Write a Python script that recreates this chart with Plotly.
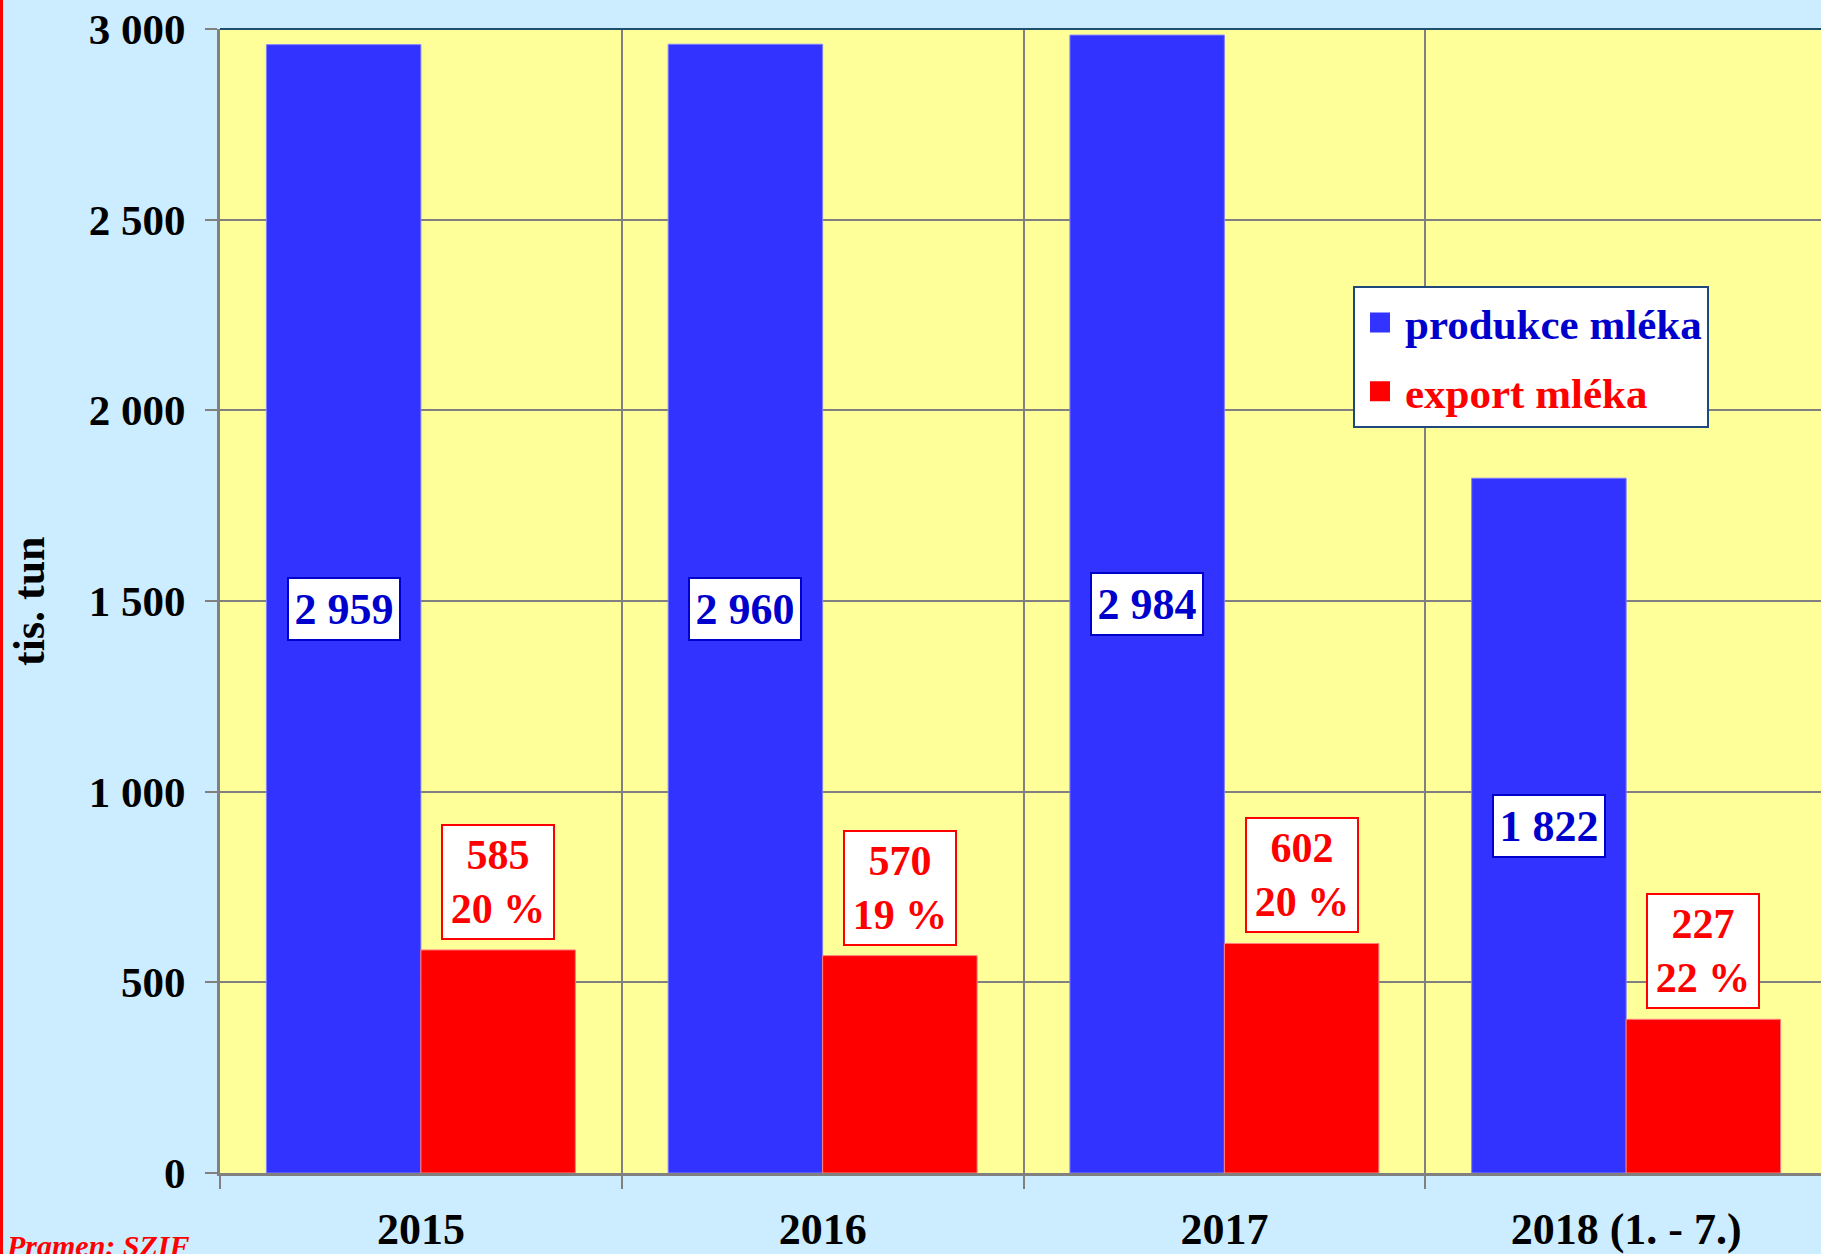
import plotly.graph_objects as go

# ---- data ----
categories = ["2015", "2016", "2017", "2018 (1. - 7.)"]
produkce = [2959, 2960, 2984, 1822]          # bar heights, tis. tun
export_bar = [585, 570, 602, 403]            # bar heights as drawn, tis. tun
produkce_labels = ["2 959", "2 960", "2 984", "1 822"]
export_labels = ["585", "570", "602", "227"]
share_labels = ["20 %", "19 %", "20 %", "22 %"]
y_ticks = [0, 500, 1000, 1500, 2000, 2500, 3000]
y_ticktext = ["0", "500", "1 000", "1 500", "2 000", "2 500", "3 000"]
series_names = ["produkce mléka", "export mléka"]

FONT = "Liberation Serif"
BLUE = "#3333FF"
BLUE_TXT = "#0000CC"
RED = "#FF0000"
GRID = "#808080"

W, H = 1821, 1254
L, R, T, B = 220, 0, 29, 81
PW, PH = W - L - R, H - T - B
X_END = 3.485   # plot area is cut a few pixels before the last category boundary

fig = go.Figure()
fig.add_trace(go.Bar(
    x=categories, y=produkce, name=series_names[0],
    marker=dict(color=BLUE, line=dict(color="#8080FF", width=1)),
    showlegend=False, hoverinfo="y",
))
fig.add_trace(go.Bar(
    x=categories, y=export_bar, name=series_names[1],
    marker=dict(color=RED, line=dict(color="#FF8080", width=1)),
    showlegend=False, hoverinfo="y",
))
# legend entries (square swatches like the original)
for nm, col, tcol, grp in [(series_names[0], BLUE, BLUE_TXT, "a"), (series_names[1], RED, RED, "b")]:
    fig.add_trace(go.Scatter(
        x=[None], y=[None], mode="markers", legendgroup=grp,
        name=f"<span style='color:{tcol}'>{nm}</span>",
        marker=dict(symbol="square", size=16, color=col, line=dict(color=col, width=4)),
        hoverinfo="skip",
    ))

cat_px = PW / (X_END + 0.5)
shift = 0.3845 * cat_px / 2

annotations = []
for i, (v, t) in enumerate(zip(produkce, produkce_labels)):
    annotations.append(dict(
        x=i, y=v / 2, xref="x", yref="y", text=t, showarrow=False,
        xshift=-shift, yanchor="middle", xanchor="center",
        font=dict(family=FONT, size=44, color=BLUE_TXT, weight="bold"),
        bgcolor="white", bordercolor=BLUE_TXT, borderwidth=2, borderpad=3,
        width=104, height=54,
    ))
for i, (v, t, s) in enumerate(zip(export_bar, export_labels, share_labels)):
    annotations.append(dict(
        x=i, y=v, xref="x", yref="y", text=f"{t}<br>{s}", showarrow=False,
        xshift=shift, yshift=10, yanchor="bottom", xanchor="center",
        font=dict(family=FONT, size=42, color=RED, weight="bold"),
        bgcolor="white", bordercolor=RED, borderwidth=2, borderpad=3,
        width=104, height=106,
    ))

# y axis title
annotations.append(dict(
    x=(29 - L) / PW, y=(H - B - 601) / PH,
    xref="paper", yref="paper", text="tis. tun", textangle=-90, showarrow=False,
    xanchor="center", yanchor="middle",
    font=dict(family=FONT, size=44, color="black", weight="bold"),
))
# source note
annotations.append(dict(
    x=(4 - L) / PW, y=(H - B - 1227) / PH, xref="paper", yref="paper",
    text="Pramen: SZIF", showarrow=False, xanchor="left", yanchor="top",
    font=dict(family=FONT, size=30, color=RED, weight="bold", style="italic"),
))

shapes = [
    # top border of plot area
    dict(type="line", xref="paper", yref="paper", x0=0, x1=1, y0=1, y1=1,
         line=dict(color="#1F4E6E", width=2)),
    # red line at left edge of the slide
    dict(type="line", xref="paper", yref="paper", x0=(1.5 - L) / PW, x1=(1.5 - L) / PW,
         y0=-B / PH, y1=1 + T / PH, line=dict(color=RED, width=3)),
]

fig.update_layout(
    width=W, height=H,
    margin=dict(l=L, r=R, t=T, b=B, autoexpand=False),
    paper_bgcolor="#CCECFF", plot_bgcolor="#FFFF99",
    barmode="group", bargap=0.231, bargroupgap=0,
    font=dict(family=FONT, color="black"),
    showlegend=True,
    legend=dict(
        x=(1353 - L) / PW, y=(H - B - 286) / PH, xanchor="left", yanchor="top",
        bgcolor="white", bordercolor="#1F497D", borderwidth=2,
        font=dict(family=FONT, size=43, weight="bold"),
        tracegroupgap=10, traceorder="grouped", itemwidth=40, itemsizing="trace",
    ),
    xaxis=dict(
        type="category", tickson="boundaries", range=[-0.5, X_END],
        showgrid=True, gridcolor=GRID, gridwidth=2,
        showline=True, linecolor=GRID, linewidth=3,
        ticks="outside", ticklen=13, tickcolor=GRID, tickwidth=2,
        tickfont=dict(family=FONT, size=44, color="black", weight="bold"),
        ticklabelstandoff=15,
    ),
    yaxis=dict(
        range=[0, 3000], tickvals=y_ticks, ticktext=y_ticktext,
        showgrid=True, gridcolor=GRID, gridwidth=2, zeroline=False,
        showline=True, linecolor=GRID, linewidth=3,
        ticks="outside", ticklen=12, tickcolor=GRID, tickwidth=2,
        tickfont=dict(family=FONT, size=43, color="black", weight="bold"),
        ticklabelstandoff=11,
    ),
    annotations=annotations, shapes=shapes,
)

fig.write_html(
    "out.html",
    config={"displayModeBar": False},
    post_script="document.body.style.margin='0';document.body.style.background='#CCECFF';"
                "document.documentElement.style.overflow='hidden';",
)
